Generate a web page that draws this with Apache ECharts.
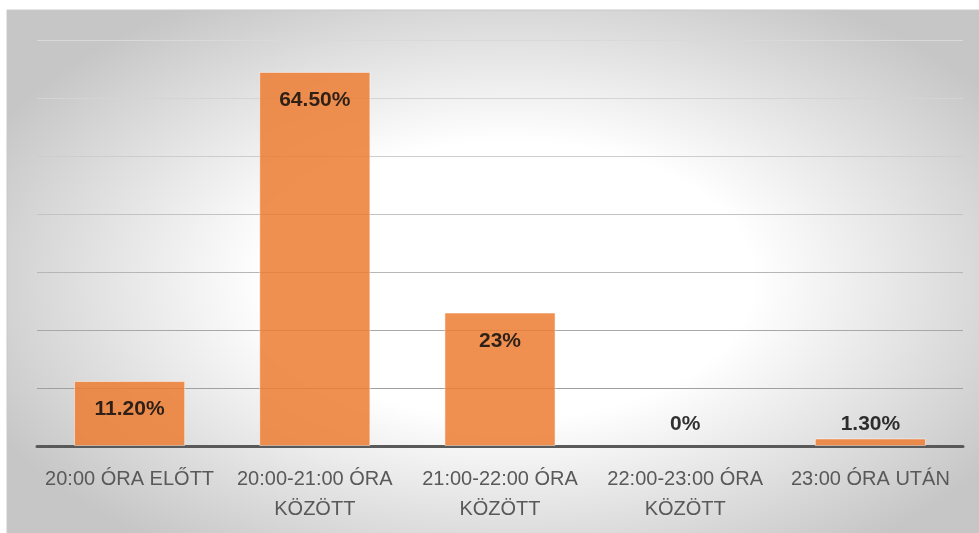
<!DOCTYPE html>
<html>
<head>
<meta charset="utf-8">
<script src="https://cdn.jsdelivr.net/npm/echarts@6/dist/echarts.min.js"></script>
<style>
  html, body { margin: 0; padding: 0; background: #ffffff; }
  #chart { width: 979px; height: 533px; }
</style>
</head>
<body>
<div id="chart"></div>
<script>
// Categories (time slots) and the share of answers per slot, in percent
const categories = [
  '20:00 ÓRA ELŐTT',
  '20:00-21:00 ÓRA\nKÖZÖTT',
  '21:00-22:00 ÓRA\nKÖZÖTT',
  '22:00-23:00 ÓRA\nKÖZÖTT',
  '23:00 ÓRA UTÁN'
];
const values = [11.2, 64.5, 23, 0, 1.3];
const valueLabels = ['11.20%', '64.50%', '23%', '0%', '1.30%'];

// Value axis range and step (gridlines every 10 %)
const axisMin = 0;
const axisMax = 70;
const axisStep = 10;

// Gridline shades, from the baseline upwards
const gridShades = ['#9a9a9a', '#a0a0a0', '#a8a8a8', '#b6b6b6', '#c3c3c3', '#cdcdcd', '#d4d4d4', '#d9d9d9'];

const chart = echarts.init(document.getElementById('chart'), null, { renderer: 'canvas' });

// Elliptical radial backdrop of the chart box
const stretch = 580 / 330;
const boxX = 7, boxY = 10;

const option = {
  backgroundColor: '#ffffff',
  animation: false,
  graphic: [
    {
      type: 'rect',
      silent: true,
      z: -10,
      x: boxX,
      y: boxY,
      scaleX: stretch,
      shape: { x: 0, y: 0, width: (1000 - boxX) / stretch, height: 540 },
      style: {
        fill: {
          type: 'radial',
          global: true,
          x: (510 - boxX) / stretch,
          y: 280 - boxY,
          r: 330,
          colorStops: [
            { offset: 0, color: '#ffffff' },
            { offset: 0.42, color: '#ffffff' },
            { offset: 1, color: '#c6c6c6' }
          ]
        }
      }
    },
    {
      type: 'rect',
      silent: true,
      z: -9,
      x: boxX,
      y: boxY,
      shape: { x: 0, y: 0, width: 1000, height: 540 },
      style: { fill: null, stroke: '#c8c8c8', lineWidth: 1 }
    }
  ],
  grid: { left: 37, right: 16, top: 40, bottom: 87 },
  xAxis: {
    type: 'category',
    data: categories,
    axisLine: { show: true, lineStyle: { color: '#595959', width: 3 } },
    axisTick: { show: false },
    axisLabel: {
      interval: 0,
      color: '#595959',
      fontFamily: 'Liberation Sans, Arial, sans-serif',
      fontSize: 20,
      lineHeight: 30,
      margin: 18
    }
  },
  yAxis: {
    type: 'value',
    min: axisMin,
    max: axisMax,
    interval: axisStep,
    axisLabel: { show: false },
    axisLine: { show: false },
    axisTick: { show: false },
    splitLine: { show: true, lineStyle: { color: gridShades, width: 1 } }
  },
  series: [
    {
      type: 'bar',
      barCategoryGap: '40%',
      data: values.map(function (v) {
        const small = v < 5;
        return {
          value: v,
          itemStyle: { borderWidth: v === 0 ? 0 : 1 },
          label: {
            position: small ? 'top' : 'insideTop',
            distance: small ? 11 : 18
          }
        };
      }),
      itemStyle: {
        color: '#ED7D31',
        opacity: 0.85,
        borderColor: 'rgba(255,255,255,0.55)',
        borderWidth: 1
      },
      label: {
        show: true,
        color: '#0d0d0d',
        fontFamily: 'Liberation Sans, Arial, sans-serif',
        fontWeight: 'bold',
        fontSize: 21,
        formatter: function (p) { return valueLabels[p.dataIndex]; }
      },
      labelLayout: function (params) {
        // small bars: keep their labels at a common height above the baseline
        if (values[params.dataIndex] < 5) {
          return {
            x: params.rect.x + params.rect.width / 2,
            y: params.rect.y + params.rect.height - 22,
            align: 'center',
            verticalAlign: 'middle'
          };
        }
        return {};
      }
    }
  ]
};

chart.setOption(option);
</script>
</body>
</html>
